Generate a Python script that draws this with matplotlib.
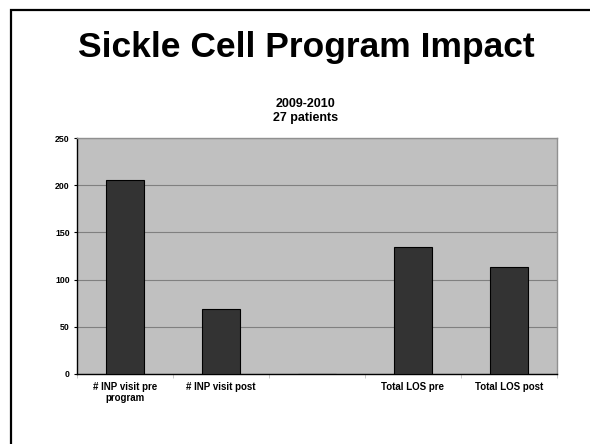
import matplotlib.pyplot as plt
import numpy as np
from matplotlib.patches import Rectangle

plt.rcParams["font.family"] = ["Liberation Sans", "DejaVu Sans"]

categories = ["# INP visit pre\nprogram", "# INP visit post", "", "Total LOS pre", "Total LOS post"]
values = [206, 69, 0, 134, 113]
y_ticks = [0, 50, 100, 150, 200, 250]

W, H = 590, 444
fig = plt.figure(figsize=(W / 100, H / 100), dpi=100)

# slide frame: top and left rules
fig.add_artist(Rectangle((11 / W, -0.1), 1.2, 1 - 10 / H + 0.1,
                         transform=fig.transFigure, fill=False,
                         edgecolor="black", linewidth=1.6))

fig.text(306 / W, 1 - 57 / H, "Sickle Cell Program Impact", ha="center",
         va="baseline", fontsize=25.5, fontweight="bold")
fig.text(306 / W, 1 - 107 / H, "2009-2010", ha="center", va="baseline",
         fontsize=9, fontweight="bold")
fig.text(306 / W, 1 - 121 / H, "27 patients", ha="center", va="baseline",
         fontsize=9, fontweight="bold")

ax = fig.add_axes([0.130, 0.158, 0.8136, 0.531])
ax.set_facecolor("#c0c0c0")

x = np.arange(len(categories))
ax.bar(x, values, width=0.4, color="#333333", edgecolor="black", linewidth=0.8, zorder=3)

ax.set_xlim(-0.5, len(categories) - 0.5)
ax.set_ylim(0, 250)
ax.set_yticks(y_ticks)
ax.set_yticklabels([str(v) for v in y_ticks], fontsize=6.3, fontweight="bold")
ax.yaxis.grid(True, color="#808080", linewidth=0.8, zorder=1)

ax.set_xticks(x)
ax.set_xticklabels(categories, fontsize=7, fontweight="bold", linespacing=1.15)
ax.tick_params(axis="x", length=0, pad=6)
ax.set_xticks(np.arange(len(categories) + 1) - 0.5, minor=True)
ax.tick_params(axis="x", which="minor", length=3, color="#c0c0c0", direction="out")
ax.tick_params(axis="y", length=2, pad=3, direction="out")

for side in ("top", "right"):
    ax.spines[side].set_color("#909090")
    ax.spines[side].set_linewidth(1.0)
ax.spines["left"].set_linewidth(1.0)
ax.spines["bottom"].set_linewidth(1.0)

fig.savefig("out.png", dpi=100)
